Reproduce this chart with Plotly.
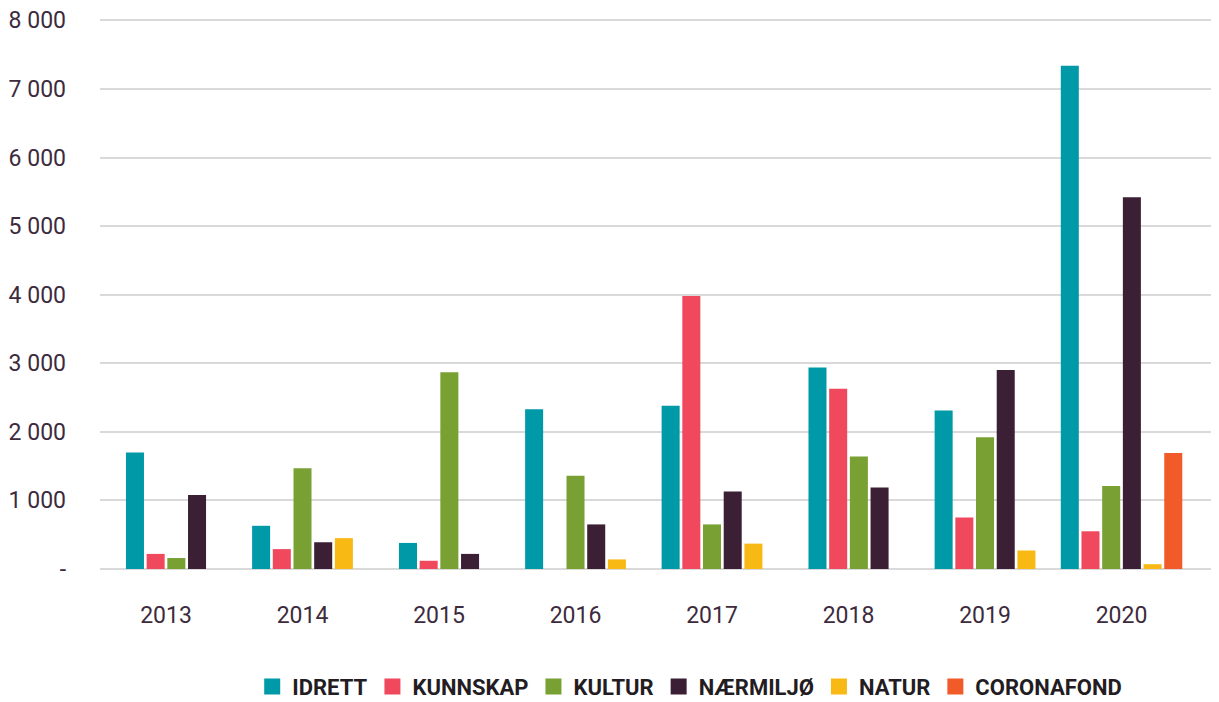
import plotly.graph_objects as go

years = ["2013", "2014", "2015", "2016", "2017", "2018", "2019", "2020"]
series_names = ["IDRETT", "KUNNSKAP", "KULTUR", "NÆRMILJØ", "NATUR", "CORONAFOND"]
idrett = [1700, 630, 380, 2330, 2380, 2940, 2310, 7340]
kunnskap = [220, 290, 120, 0, 3980, 2630, 750, 550]
kultur = [160, 1470, 2870, 1360, 650, 1640, 1920, 1210]
naermiljo = [1080, 390, 220, 650, 1130, 1190, 2900, 5420]
natur = [None, 450, None, 140, 370, None, 270, 70]
coronafond = [None, None, None, None, None, None, None, 1690]
y_tickvals = [0, 1000, 2000, 3000, 4000, 5000, 6000, 7000, 8000]
y_ticktext = ["-", "1 000", "2 000", "3 000", "4 000", "5 000", "6 000", "7 000", "8 000"]

colors = ["#0099A8", "#F0495D", "#78A033", "#3A1F35", "#F9B915", "#F15A29"]
series = [idrett, kunnskap, kultur, naermiljo, natur, coronafond]

text_color = "#3D2B3D"
bar_w = 0.132
pitch = 0.1516

# pack the bars that exist in each year, centred on the year
xs = [[None] * len(years) for _ in series]
for j in range(len(years)):
    present = [i for i, s in enumerate(series) if s[j] is not None]
    n = len(present)
    for rank, i in enumerate(present):
        xs[i][j] = j + (rank - (n - 1) / 2) * pitch

fig = go.Figure()
for i, (name, s) in enumerate(zip(series_names, series)):
    px = [x for x, v in zip(xs[i], s) if v is not None]
    py = [v for v in s if v is not None]
    fig.add_trace(go.Bar(x=px, y=py, width=bar_w, name=name,
                         marker=dict(color=colors[i], line=dict(width=0)),
                         showlegend=False))
for i, name in enumerate(series_names):
    fig.add_trace(go.Scatter(x=[None], y=[None], mode="markers", name=name,
                             marker=dict(symbol="square", size=19, color=colors[i]),
                             showlegend=True))

# the page body has an 8px margin, so the figure is 8px smaller on each axis
fig.update_layout(
    width=1211, height=694,
    margin=dict(l=92, r=0, t=10.6, b=133, autoexpand=False),
    paper_bgcolor="white", plot_bgcolor="white",
    font=dict(family="Roboto", color=text_color, size=23),
    barmode="overlay",
    legend=dict(orientation="h", x=0.527, xanchor="center", y=-0.2522, yanchor="bottom",
                font=dict(family="Roboto", size=22, color="#231d23", weight="bold"),
                itemclick=False, itemdoubleclick=False, tracegroupgap=0,
                borderwidth=0),
    xaxis=dict(range=[-0.4835, 7.714], tickmode="array",
               tickvals=list(range(len(years))), ticktext=years,
               showgrid=False, zeroline=False, showline=False, automargin=False,
               ticks="", ticklabelstandoff=30, ticklabeloverflow="allow",
               tickfont=dict(size=23)),
    yaxis=dict(range=[0, 8020], tickmode="array", tickvals=y_tickvals, ticktext=y_ticktext,
               showgrid=True, gridcolor="#D9D9D9", gridwidth=1.5,
               zeroline=True, zerolinecolor="#D9D9D9", zerolinewidth=2,
               showline=False, ticks="", ticklabelstandoff=33, automargin=False,
               ticklabeloverflow="allow", tickfont=dict(size=23)),
)

fig.write_html("out.html")
